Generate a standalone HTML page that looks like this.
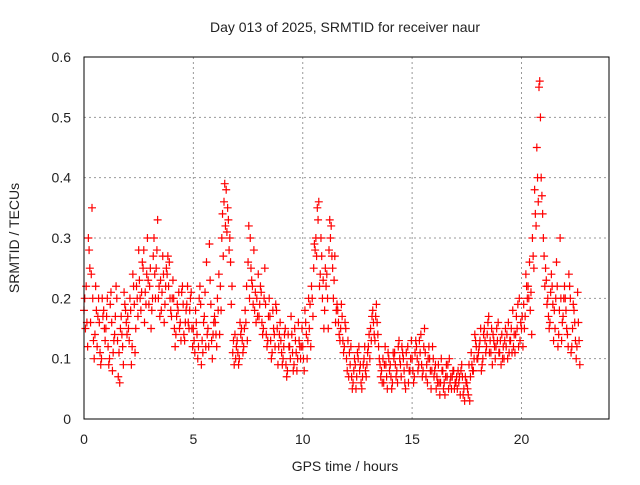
<!DOCTYPE html>
<html><head><meta charset="utf-8"><style>
body{margin:0;background:#fff;font-family:"Liberation Sans",sans-serif}
svg text{font-family:"Liberation Sans",sans-serif;font-size:14px;fill:#222}
</style></head><body>
<svg id="chart" width="640" height="480" viewBox="0 0 640 480">
<text x="345" y="32" text-anchor="middle">Day 013 of 2025, SRMTID for receiver naur</text>
<text x="345" y="471" text-anchor="middle">GPS time / hours</text>
<text transform="translate(19,238) rotate(-90)" text-anchor="middle">SRMTID / TECUs</text>
<g id="grid"></g>
<g id="ticks"></g>
<g id="pts"></g>
<rect x="84" y="57" width="525" height="362" fill="none" stroke="#000" stroke-width="1"/>
</svg>
<script>
const xTicks=[0,5,10,15,20];
const yTicks=[0,0.1,0.2,0.3,0.4,0.5,0.6];
const yTickLabels=["0","0.1","0.2","0.3","0.4","0.5","0.6"];
const timeStep=0.1;
const tecA=[.18,.22,.30,.16,.20,.14,.12,.16,.10,.18,
.15,.12,.19,.08,.14,.20,.11,.17,.09,.18,
.17,.20,.12,.19,.22,.28,.18,.25,.21,.30,
.22,.18,.30,.25,.20,.23,.27,.19,.24,.26,
.17,.20,.14,.18,.16,.22,.13,.19,.15,.21,
.15,.18,.10,.22,.13,.17,.26,.12,.19,.14,
.16,.20,.14,.30,.36,.38,.33,.26,.11,.14,
.13,.10,.15,.12,.16,.26,.30,.22,.18,.20,
.17,.21,.15,.19,.13,.17,.11,.14,.18,.12,
.13,.10,.15,.08,.12,.14,.09,.11,.16,.10,
.12,.18,.10,.15,.22,.25,.30,.33,.24,.20,
.18,.24,.28,.32,.20,.16,.18,.13,.17,.12,
.10,.07,.12,.06,.09,.11,.08,.05,.10,.07,
.12,.15,.18,.13,.16,.10,.08,.06,.09,.11,
.09,.06,.11,.08,.13,.07,.10,.05,.12,.08,
.10,.07,.12,.09,.14,.08,.11,.06,.10,.08,
.07,.05,.09,.06,.08,.04,.07,.10,.05,.08,
.06,.08,.04,.07,.03,.06,.09,.11,.08,.13,
.10,.13,.09,.15,.12,.17,.11,.14,.10,.13,
.11,.14,.10,.12,.16,.13,.18,.11,.15,.20,
.15,.19,.24,.22,.18,.30,.38,.45,.55,.40,
.30,.25,.20,.16,.22,.18,.26,.14,.20,.17,
.20,.14,.22,.12,.18,.10,.16];
const tecB=[.15,.12,.25,.35,.10,.18,.20,.09,.17,.13,
.20,.10,.16,.13,.22,.07,.15,.12,.19,.14,
.13,.09,.22,.15,.17,.20,.26,.16,.24,.19,
.15,.27,.20,.33,.17,.21,.16,.25,.22,.18,
.23,.12,.19,.15,.21,.14,.18,.16,.20,.12,
.11,.14,.20,.09,.16,.12,.15,.23,.10,.17,
.12,.24,.18,.27,.32,.35,.30,.22,.09,.12,
.09,.14,.11,.18,.13,.20,.23,.28,.16,.24,
.22,.14,.25,.12,.20,.10,.15,.19,.09,.16,
.09,.14,.07,.12,.17,.08,.13,.10,.12,.15,
.08,.14,.20,.12,.17,.28,.35,.22,.27,.15,
.22,.15,.30,.25,.27,.19,.14,.19,.11,.15,
.13,.09,.05,.10,.07,.12,.06,.09,.08,.11,
.10,.17,.14,.19,.12,.07,.10,.12,.05,.08,
.05,.10,.07,.12,.09,.11,.06,.09,.08,.13,
.06,.13,.08,.11,.07,.15,.09,.12,.05,.10,
.09,.06,.04,.08,.06,.09,.05,.07,.08,.06,
.05,.07,.09,.05,.06,.04,.07,.08,.14,.10,
.12,.08,.14,.11,.16,.13,.09,.12,.15,.11,
.09,.12,.15,.10,.13,.11,.14,.17,.12,.16,
.12,.17,.20,.26,.14,.25,.32,.36,.50,.34,
.22,.19,.15,.24,.13,.20,.12,.30,.16,.22,
.15,.24,.11,.19,.13,.21,.09];
const tecC=[.20,.16,.28,.24,.13,.22,.17,.11,.20,.15,
.17,.09,.21,.11,.17,.13,.06,.14,.21,.16,
.15,.18,.24,.11,.20,.23,.21,.28,.19,.23,
.25,.20,.24,.28,.22,.18,.24,.22,.27,.20,
.20,.15,.17,.21,.13,.19,.16,.22,.18,.15,
.13,.16,.12,.19,.11,.21,.14,.29,.13,.16,
.14,.18,.22,.34,.39,.31,.28,.19,.13,.10,
.11,.16,.13,.15,.22,.32,.25,.19,.21,.17,
.19,.16,.20,.14,.17,.13,.18,.12,.15,.14,
.11,.12,.09,.14,.10,.11,.15,.08,.13,.12,
.10,.16,.13,.19,.20,.29,.27,.36,.30,.23,
.25,.20,.33,.27,.23,.18,.16,.15,.13,.16,
.08,.11,.07,.08,.05,.10,.09,.07,.12,.09,
.14,.13,.16,.17,.14,.09,.06,.09,.07,.10,
.07,.11,.09,.06,.10,.12,.08,.11,.06,.10,
.08,.11,.10,.13,.09,.12,.07,.10,.08,.12,
.08,.07,.06,.10,.05,.07,.09,.06,.07,.05,
.07,.06,.08,.04,.07,.05,.03,.09,.10,.12,
.11,.15,.10,.13,.14,.11,.15,.13,.12,.16,
.13,.10,.13,.14,.11,.15,.12,.14,.19,.13,
.17,.15,.22,.20,.21,.27,.34,.40,.56,.37,
.27,.23,.17,.21,.19,.15,.22,.18,.13,.20,
.18,.12,.20,.15,.16,.12,.13];
const NS="http://www.w3.org/2000/svg";
const X0=84,X1=609,Y0=419,Y1=57,XMAX=24,YMAX=0.6;
function xs(v){return X0+(X1-X0)*v/XMAX;}
function ys(v){return Y0-(Y0-Y1)*v/YMAX;}
const grid=document.getElementById('grid'),ticks=document.getElementById('ticks'),pts=document.getElementById('pts');
xTicks.forEach(t=>{
  const x=xs(t);
  if(t>0){const l=document.createElementNS(NS,'line');
  
  
  l.setAttribute('x1',x);l.setAttribute('x2',x);l.setAttribute('y1',Y1);l.setAttribute('y2',Y0);
  l.setAttribute('stroke','#999');l.setAttribute('stroke-dasharray','2,3');grid.appendChild(l);}
  const tx=document.createElementNS(NS,'text');
  
  
  tx.setAttribute('x',x);tx.setAttribute('y',Y0+25);tx.setAttribute('text-anchor','middle');tx.textContent=t;ticks.appendChild(tx);
});
yTicks.forEach((t,i)=>{
  const y=ys(t);
  if(t>0&&t<YMAX){const l=document.createElementNS(NS,'line');
  
  
  l.setAttribute('x1',X0);l.setAttribute('x2',X1);l.setAttribute('y1',y);l.setAttribute('y2',y);
  l.setAttribute('stroke','#999');l.setAttribute('stroke-dasharray','2,3');grid.appendChild(l);}
  const tx=document.createElementNS(NS,'text');
  
  
  tx.setAttribute('x',X0-13);tx.setAttribute('y',y+5);tx.setAttribute('text-anchor','end');tx.textContent=yTickLabels[i];ticks.appendChild(tx);
});
function plus(v,i,off,color){
  const x=xs(i*timeStep+off),y=ys(v);
  const p=document.createElementNS(NS,'path');
  
  
  p.setAttribute('d',`M${x-4},${y}h8M${x},${y-4}v8`);
  p.setAttribute('stroke',color);p.setAttribute('stroke-width','1.2');pts.appendChild(p);
}
tecA.forEach((v,i)=>plus(v,i,0,'#ff0000'));
tecC.forEach((v,i)=>plus(v,i,0.033,'#ff0000'));
tecB.forEach((v,i)=>plus(v,i,0.066,'#ff0000'));
</script>
</body></html>
